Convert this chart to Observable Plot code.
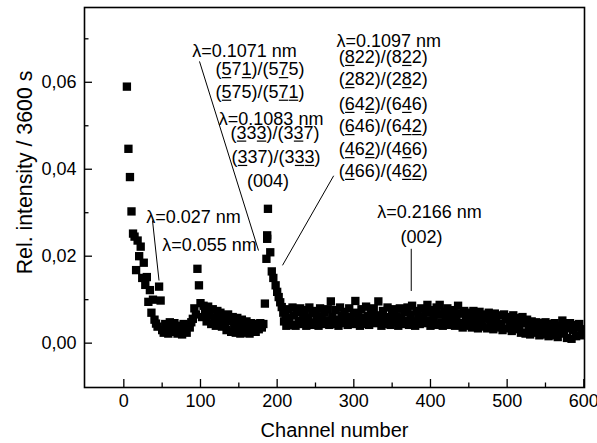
<!DOCTYPE html>
<html>
<head>
<meta charset="utf-8">
<script src="https://cdn.jsdelivr.net/npm/d3@7"></script>
<script src="https://cdn.jsdelivr.net/npm/@observablehq/plot@0.6"></script>
<style>
  html, body { margin: 0; padding: 0; background: #fff; }
  #chart svg { display: block; }
</style>
</head>
<body>
<div id="chart"></div>
<script>
// ---------------- data ----------------
const xTitle = "Channel number";
const yTitle = "Rel. intensity / 3600 s";
const xTicks = [0, 100, 200, 300, 400, 500, 600];
const xMinorTicks = [50, 150, 250, 350, 450, 550];
const yTicks = [0, 0.02, 0.04, 0.06];
const yMinorTicks = [0.01, 0.03, 0.05, 0.07];

// first isolated points near channel 0
const headChannels = [4, 6, 8, 10];
const headIntensity = [0.0590, 0.0447, 0.0382, 0.0303];

// dense band, channels 12..182, every 2 channels
const band1Start = 12, band1Step = 2;
const band1Intensity = [
  0.0252, 0.0245, 0.0168, 0.0236, 0.0200, 0.0222, 0.0150, 0.0185, 0.0134, 0.0152,
  0.0095, 0.0122, 0.0070, 0.0100, 0.0054, 0.0045, 0.0038, 0.0130, 0.0098,
  0.0030, 0.0024, 0.0044, 0.0036, 0.0022, 0.0048, 0.0032, 0.0026, 0.0046, 0.0030,
  0.0022, 0.0040, 0.0034, 0.0020, 0.0044, 0.0030, 0.0024, 0.0042, 0.0036, 0.0048,
  0.0056, 0.0080, 0.0066, 0.0171, 0.0133,
  0.0092, 0.0060, 0.0086, 0.0072, 0.0050, 0.0084, 0.0064, 0.0044, 0.0078, 0.0058,
  0.0040, 0.0074, 0.0054, 0.0070, 0.0038, 0.0062, 0.0048, 0.0030, 0.0066, 0.0050,
  0.0026, 0.0060, 0.0042, 0.0024, 0.0058, 0.0040, 0.0022, 0.0054, 0.0036, 0.0024,
  0.0050, 0.0034, 0.0022, 0.0046, 0.0030, 0.0040, 0.0026, 0.0044, 0.0032, 0.0046,
  0.0036, 0.0044
];

// peak near channel 190
const peakChannels = [184, 186, 187, 187, 188, 191, 193, 195, 198, 200, 202, 204, 206, 208, 209, 211];
const peakIntensity = [0.0091, 0.0194, 0.0248, 0.0240, 0.0309, 0.0209, 0.0165, 0.0150,
                       0.0133, 0.0118, 0.0106, 0.0094, 0.0083, 0.0070, 0.0050, 0.0060];

// dense band, channels 212..598, every 2 channels
const band2Start = 212, band2Step = 2;
const band2Intensity = [
  0.0040, 0.0078, 0.0058, 0.0042, 0.0082, 0.0064, 0.0040, 0.0072, 0.0052, 0.0080,
  0.0044, 0.0062, 0.0076, 0.0040, 0.0058, 0.0082, 0.0048, 0.0068, 0.0042, 0.0074,
  0.0056, 0.0040, 0.0080, 0.0062, 0.0044, 0.0070, 0.0052, 0.0078, 0.0042, 0.0096,
  0.0060, 0.0044, 0.0076, 0.0054, 0.0040, 0.0082, 0.0064, 0.0046, 0.0072, 0.0056,
  0.0042, 0.0080, 0.0060, 0.0044, 0.0070, 0.0097, 0.0050, 0.0066, 0.0040, 0.0078,
  0.0058, 0.0044, 0.0084, 0.0062, 0.0042, 0.0072, 0.0054, 0.0080, 0.0046, 0.0064,
  0.0096, 0.0052, 0.0040, 0.0074, 0.0060, 0.0044, 0.0082, 0.0056, 0.0042, 0.0070,
  0.0078, 0.0048, 0.0062, 0.0040, 0.0080, 0.0058, 0.0044, 0.0072, 0.0052, 0.0082,
  0.0042, 0.0066, 0.0086, 0.0050, 0.0040, 0.0074, 0.0058, 0.0044, 0.0080, 0.0062,
  0.0046, 0.0070, 0.0088, 0.0052, 0.0040, 0.0076, 0.0060, 0.0042, 0.0082, 0.0066,
  0.0088, 0.0048, 0.0040, 0.0072, 0.0058, 0.0080, 0.0042, 0.0064, 0.0052, 0.0076,
  0.0040, 0.0060, 0.0086, 0.0046, 0.0068, 0.0036, 0.0074, 0.0054, 0.0040, 0.0070,
  0.0058, 0.0036, 0.0074, 0.0048, 0.0064, 0.0034, 0.0072, 0.0052, 0.0038, 0.0066,
  0.0056, 0.0034, 0.0070, 0.0046, 0.0060, 0.0032, 0.0068, 0.0050, 0.0036, 0.0064,
  0.0044, 0.0030, 0.0066, 0.0054, 0.0034, 0.0060, 0.0042, 0.0028, 0.0064, 0.0048,
  0.0032, 0.0058, 0.0040, 0.0024, 0.0060, 0.0046, 0.0022, 0.0054, 0.0036, 0.0020,
  0.0050, 0.0040, 0.0024, 0.0048, 0.0032, 0.0018, 0.0046, 0.0036, 0.0020, 0.0048,
  0.0030, 0.0016, 0.0044, 0.0034, 0.0018, 0.0046, 0.0028, 0.0014, 0.0040, 0.0030,
  0.0052, 0.0022, 0.0040, 0.0012, 0.0034, 0.0046, 0.0010, 0.0030, 0.0042, 0.0016,
  0.0036, 0.0044, 0.0018, 0.0032
];

// annotations ("_" marks the next digit as underlined)
const noteText = [
  "λ=0.1071 nm", "(_57_1)/(5_75)", "(_575)/(5_7_1)",
  "λ=0.1083 nm", "(_33_3)/(3_37)", "(_337)/(3_3_3)",
  "λ=0.1097 nm", "(_822)/(8_22)", "(_282)/(2_82)", "(_64_2)/(6_46)",
  "(_646)/(6_4_2)", "(_46_2)/(4_66)", "(_466)/(4_6_2)",
  "λ=0.027 nm", "λ=0.055 nm", "λ=0.2166 nm"
];
const noteX = [89.2, 119.6, 119.6, 123.9, 139.2, 140.5, 277.4, 280.4, 280.4, 280.4,
               280.4, 280.4, 280.4, 29.2, 50.1, 330.5];
const noteY = [0.0671, 0.0629, 0.0577, 0.0514, 0.0483, 0.0427, 0.0695, 0.0657, 0.0606, 0.0549,
               0.0498, 0.0445, 0.0395, 0.0289, 0.0225, 0.0302];
const centerText = ["(004)", "(002)"];
const centerX = [188, 388.3];
const centerY = [0.0373, 0.0243];

// leader lines: [channel, intensity] from -> to
const leaderFrom = [[98.7, 0.0648], [37.4, 0.0282], [273.7, 0.0385], [374.9, 0.0217]];
const leaderTo   = [[175.7, 0.0213], [45.9, 0.0144], [207.0, 0.0179], [374.9, 0.0120]];

// ---------------- build ----------------
const points = [];
headChannels.forEach((c, i) => points.push({c, v: headIntensity[i]}));
band1Intensity.forEach((v, i) => points.push({c: band1Start + i * band1Step, v}));
peakChannels.forEach((c, i) => points.push({c, v: peakIntensity[i]}));
band2Intensity.forEach((v, i) => points.push({c: band2Start + i * band2Step, v}));

const W = 597, H = 443;
const mL = 84, mR = 13, mT = 7, mB = 56;
const xDomain = [-51.3, 600.9];
const yDomain = [-0.0102, 0.0772];
const xPerPx = (xDomain[1] - xDomain[0]) / (W - mL - mR);
const yPerPx = (yDomain[1] - yDomain[0]) / (H - mT - mB);
const majorLen = 8, minorLen = 4.5;
const commaFmt = d => d3.format(".2f")(d).replace(".", ",");
const font = "'Liberation Sans', Arial, Helvetica, sans-serif";

const noteIdx = d3.range(noteText.length);
const centerIdx = d3.range(centerText.length);
const leaderIdx = d3.range(leaderFrom.length);

const chart = Plot.plot({
  width: W, height: H,
  marginLeft: mL, marginRight: mR, marginTop: mT, marginBottom: mB,
  style: {fontFamily: font, fontSize: "18px", color: "black", background: "white", overflow: "visible"},
  x: {domain: xDomain, ticks: xTicks, tickSize: 0, tickPadding: 7, tickFormat: d => String(d), label: null},
  y: {domain: yDomain, ticks: yTicks, tickSize: 0, tickPadding: 8, tickFormat: commaFmt, label: null},
  marks: [
    Plot.dot(points, {x: "c", y: "v", symbol: "square", r: 4.7, fill: "black", stroke: "none", clip: true}),
    // inward ticks
    Plot.ruleX(xTicks, {x: d => d, y1: yDomain[0], y2: yDomain[0] + majorLen * yPerPx, stroke: "black", strokeWidth: 1.3}),
    Plot.ruleX(xMinorTicks, {x: d => d, y1: yDomain[0], y2: yDomain[0] + minorLen * yPerPx, stroke: "black", strokeWidth: 1.3}),
    Plot.ruleY(yTicks, {y: d => d, x1: xDomain[0], x2: xDomain[0] + majorLen * xPerPx, stroke: "black", strokeWidth: 1.3}),
    Plot.ruleY(yMinorTicks, {y: d => d, x1: xDomain[0], x2: xDomain[0] + minorLen * xPerPx, stroke: "black", strokeWidth: 1.3}),
    Plot.frame({stroke: "black", strokeWidth: 1.6}),
    // leaders
    Plot.link(leaderIdx, {
      x1: i => leaderFrom[i][0], y1: i => leaderFrom[i][1],
      x2: i => leaderTo[i][0], y2: i => leaderTo[i][1],
      stroke: "black", strokeWidth: 1
    }),
    // annotations
    Plot.text(noteIdx, {x: i => noteX[i], y: i => noteY[i], text: i => noteText[i],
      textAnchor: "start", lineAnchor: "middle", fontSize: 18, fill: "black"}),
    Plot.text(centerIdx, {x: i => centerX[i], y: i => centerY[i], text: i => centerText[i],
      textAnchor: "middle", lineAnchor: "middle", fontSize: 18, fill: "black"}),
    // axis titles
    Plot.text([xTitle], {frameAnchor: "bottom", textAnchor: "middle", lineAnchor: "middle",
      dy: 43, fontSize: 20, fill: "black"}),
    Plot.text([yTitle], {frameAnchor: "left", textAnchor: "middle", lineAnchor: "middle",
      dx: -59.5, dy: -25, rotate: -90, fontSize: 21.3, fill: "black"})
  ]
});

document.getElementById("chart").appendChild(chart);

// turn "_x" markup into plain text plus an underline under the marked digit
const NS = "http://www.w3.org/2000/svg";
chart.querySelectorAll("text").forEach(t => {
  const s = t.textContent;
  if (!s.includes("_")) return;
  let plain = "";
  const marks = [];
  for (let i = 0; i < s.length; i++) {
    if (s[i] === "_" && i + 1 < s.length) { marks.push(plain.length); plain += s[i + 1]; i++; }
    else plain += s[i];
  }
  t.textContent = plain;
  const tr = t.getAttribute("transform");
  marks.forEach(k => {
    const a = t.getStartPositionOfChar(k), b = t.getEndPositionOfChar(k);
    const ln = document.createElementNS(NS, "line");
    ln.setAttribute("x1", a.x + 0.3);
    ln.setAttribute("x2", b.x - 0.3);
    ln.setAttribute("y1", a.y + 2.2);
    ln.setAttribute("y2", a.y + 2.2);
    ln.setAttribute("stroke", "black");
    ln.setAttribute("stroke-width", 1.2);
    if (tr) ln.setAttribute("transform", tr);
    t.parentNode.insertBefore(ln, t.nextSibling);
  });
});
</script>
</body>
</html>
